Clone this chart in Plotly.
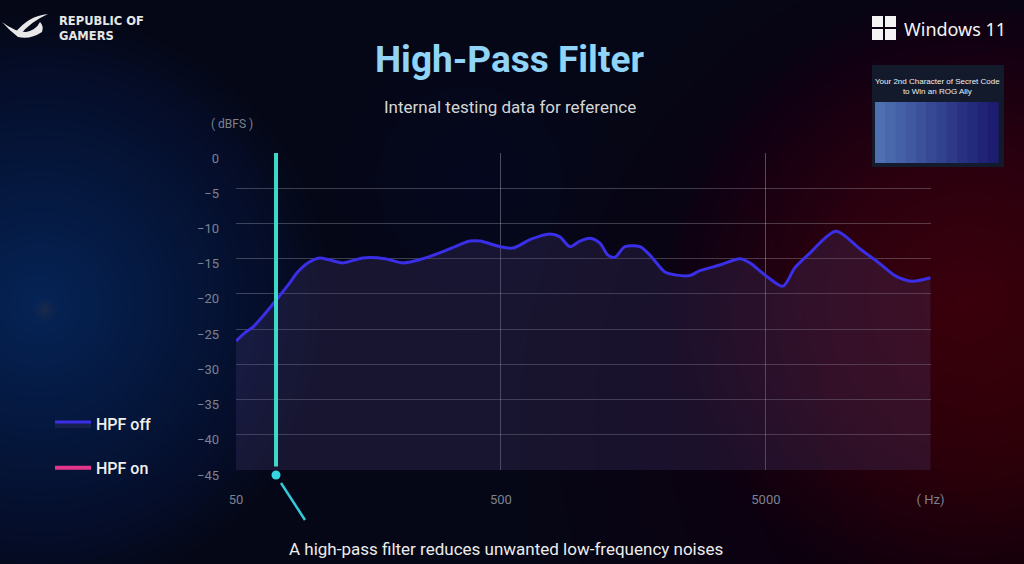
import math
import plotly.graph_objects as go

# ---------------- data ----------------
FREQ_HZ = [50, 54.1, 58.0, 62.7, 70.8, 79.9, 85.0, 91.1, 97.6, 103.7,
           113.1, 126.7, 150.8, 182.5, 213.4, 253.9, 302, 350, 382, 417,
           496, 555, 643, 702, 765, 835, 911, 993, 1084, 1182,
           1267, 1346, 1469, 1673, 1825, 2079, 2268, 2583, 2818, 3353,
           3989, 4351, 4957, 5797, 6433, 7330, 9187, 11315, 13461, 15340,
           17780, 20900]
HPF_OFF_DB = [-26.7, -25.5, -24.7, -23.3, -20.9, -18.4, -17.0, -15.9, -15.2, -14.9,
              -15.2, -15.6, -14.9, -15.0, -15.6, -15.0, -14.0, -13.0, -12.5, -12.5,
              -13.3, -13.5, -12.3, -11.8, -11.5, -11.9, -13.3, -12.5, -12.1, -12.8,
              -14.5, -14.8, -13.3, -13.3, -14.5, -16.9, -17.3, -17.4, -16.7, -15.9,
              -15.0, -15.6, -17.3, -18.9, -16.3, -14.2, -11.1, -13.6, -15.7, -17.4,
              -18.2, -17.7]
HPF_CUTOFF_HZ = 70.8
X_TICKS = [50, 500, 5000, 20900]
X_TICKTEXT = ["50", "500", "5000", "( Hz)"]
Y_TICKS = [0, -5, -10, -15, -20, -25, -30, -35, -40, -45]
Y_GRID = [-5, -10, -15, -20, -25, -30, -35, -40]
X_GRID = [500, 5000]
Y_MIN, Y_MAX = -45, 0
X_MIN, X_MAX = 50, 21000

# ---------------- layout helpers (pixel -> paper) ----------------
L, R, T, B = 236, 93, 153, 94
W, H = 1024, 564
PW, PH = W - L - R, H - T - B


def PX(x):
    return (x - L) / PW


def PY(y):
    return (H - B - y) / PH


fig = go.Figure()

# baseline for the area fill
fig.add_trace(go.Scatter(x=FREQ_HZ, y=[Y_MIN] * len(FREQ_HZ), mode="lines",
                         line=dict(width=0, color="rgba(0,0,0,0)"),
                         showlegend=False, hoverinfo="skip"))
fig.add_trace(go.Scatter(x=FREQ_HZ, y=HPF_OFF_DB, mode="lines", name="HPF off",
                         legendgroup="off",
                         line=dict(color="#3a2ee6", width=3, shape="spline", smoothing=0.8),
                         fill="tonexty", fillcolor="rgba(78,62,118,0.26)"))
fig.add_trace(go.Scatter(x=[None], y=[None], mode="lines", name="HPF on",
                         legendgroup="on",
                         line=dict(color="#e3358c", width=4)))

# cutoff marker line
fig.add_trace(go.Scatter(x=[HPF_CUTOFF_HZ, HPF_CUTOFF_HZ], y=[Y_MAX, Y_MIN + 0.5],
                         mode="lines", line=dict(color="#3fd9c9", width=4),
                         showlegend=False, hoverinfo="skip", cliponaxis=False))

shapes = []


def glow(cx, cy, rmax, steps, rgb, alpha):
    for i in range(steps):
        r = rmax * (1 - i / steps)
        shapes.append(dict(type="circle", layer="below", xref="paper", yref="paper",
                           xsizemode="pixel", ysizemode="pixel",
                           xanchor=PX(cx), yanchor=PY(cy),
                           x0=-r, x1=r, y0=-r, y1=r,
                           fillcolor="rgba(%d,%d,%d,%.3f)" % (rgb + (alpha,)),
                           line=dict(width=0)))


glow(1040, 420, 520, 14, (90, 10, 25), 0.02)
glow(40, 305, 290, 28, (25, 85, 165), 0.024)
glow(45, 310, 12, 5, (130, 70, 50), 0.04)
glow(965, 300, 300, 28, (125, 15, 35), 0.022)
glow(470, 180, 150, 8, (110, 110, 130), 0.012)
glow(640, 330, 160, 8, (110, 100, 120), 0.01)

# cutoff dot + diagonal pointer line
shapes.append(dict(type="circle", xref="paper", yref="paper",
                   xsizemode="pixel", ysizemode="pixel",
                   xanchor=PX(276), yanchor=PY(475),
                   x0=-4.5, x1=4.5, y0=-4.5, y1=4.5,
                   fillcolor="#35d4e0", line=dict(width=0)))
shapes.append(dict(type="line", xref="paper", yref="paper",
                   x0=PX(281), y0=PY(483), x1=PX(305), y1=PY(520),
                   line=dict(color="#35c8d8", width=2.5)))

# Windows logo squares
for (x0, y0) in [(872, 16), (885, 16), (872, 29), (885, 29)]:
    shapes.append(dict(type="rect", xref="paper", yref="paper",
                       x0=PX(x0), x1=PX(x0 + 11), y0=PY(y0), y1=PY(y0 + 11),
                       fillcolor="#f4f4f4", line=dict(width=0)))

# secret code box
shapes.append(dict(type="rect", xref="paper", yref="paper",
                   x0=PX(872), x1=PX(1004), y0=PY(65), y1=PY(167),
                   fillcolor="#131a2c", line=dict(width=0)))
n = 12
c0, c1 = (78, 112, 178), (28, 28, 112)
for i in range(n):
    t = i / (n - 1)
    col = tuple(int(c0[k] + (c1[k] - c0[k]) * t) for k in range(3))
    xa = 875 + (998 - 875) * i / n
    xb = 875 + (998 - 875) * (i + 1) / n
    shapes.append(dict(type="rect", xref="paper", yref="paper",
                       x0=PX(xa), x1=PX(xb) + 0.001, y0=PY(102), y1=PY(163),
                       fillcolor="rgb(%d,%d,%d)" % col, line=dict(width=0)))

# ROG eye logo (approximate)
ax, ay = PX(0), PY(0)
for p in ["M 48 -14 Q 28 -16 15 -33 L 20 -35 Q 30 -22 48 -14 Z",
          "M 2 -22 Q 10 -31 18 -37 Q 30 -40 42 -32 Q 44 -26 40 -22 "
          "Q 36 -30 26 -32 Q 15 -32 2 -22 Z"]:
    shapes.append(dict(type="path", xref="paper", yref="paper",
                       xsizemode="pixel", ysizemode="pixel", xanchor=ax, yanchor=ay,
                       path=p, fillcolor="#e8e8e8", line=dict(width=0)))


def ann(text, x, y, size, color, family="Roboto", xanchor="center", align="center"):
    return dict(text=text, x=PX(x), y=PY(y), xref="paper", yref="paper",
                xanchor=xanchor, yanchor="middle", align=align, showarrow=False,
                font=dict(family=family, size=size, color=color))


annotations = [
    ann("<b>High-Pass Filter</b>", 509, 59, 37, "#90d4f7"),
    ann("Internal testing data for reference", 510, 107, 17, "#d6d6d6"),
    ann("A high-pass filter reduces unwanted low-frequency noises", 506, 549, 17, "#ececec"),
    ann("( dBFS )", 232, 124, 12, "#7c8292"),
    ann("<b>REPUBLIC OF<br>GAMERS</b>", 57, 28, 11.5, "#e6e6e6", family="DejaVu Sans",
        xanchor="left", align="left"),
    ann("Windows 11", 902, 29, 18, "#f4f4f4", family="Noto Sans", xanchor="left"),
    ann("Your 2nd Character of Secret Code<br>to Win an ROG Ally", 937, 86, 8, "#f0f0f0",
        family="Liberation Sans"),
]

fig.update_layout(
    width=W, height=H, margin=dict(l=L, r=R, t=T, b=B),
    paper_bgcolor="#050716", plot_bgcolor="rgba(0,0,0,0)",
    shapes=shapes, annotations=annotations,
    legend=dict(x=PX(50), y=PY(407), xanchor="left", yanchor="top",
                font=dict(family="Roboto", size=16, color="#f0f0f0", weight=500),
                bgcolor="rgba(0,0,0,0)", tracegroupgap=20, itemwidth=36),
    xaxis=dict(type="log", range=[math.log10(X_MIN), math.log10(X_MAX)],
               tickvals=X_TICKS, ticktext=X_TICKTEXT, showgrid=False, zeroline=False,
               showline=False, ticks="", ticklabelstandoff=20,
               tickfont=dict(family="Roboto", size=13, color="#7c8292"),
               minor=dict(tickvals=X_GRID, showgrid=True,
                          gridcolor="rgba(210,210,220,0.35)", gridwidth=1, ticks="")),
    yaxis=dict(range=[Y_MIN, Y_MAX], tickvals=Y_TICKS, showgrid=False, zeroline=False,
               showline=False, ticks="", ticklabelstandoff=16, ticklabelshift=5,
               tickfont=dict(family="Roboto", size=13, color="#7c8292"),
               minor=dict(tickvals=Y_GRID, showgrid=True,
                          gridcolor="rgba(210,210,220,0.28)", gridwidth=1, ticks="")),
)

fig.write_html("out.html")
